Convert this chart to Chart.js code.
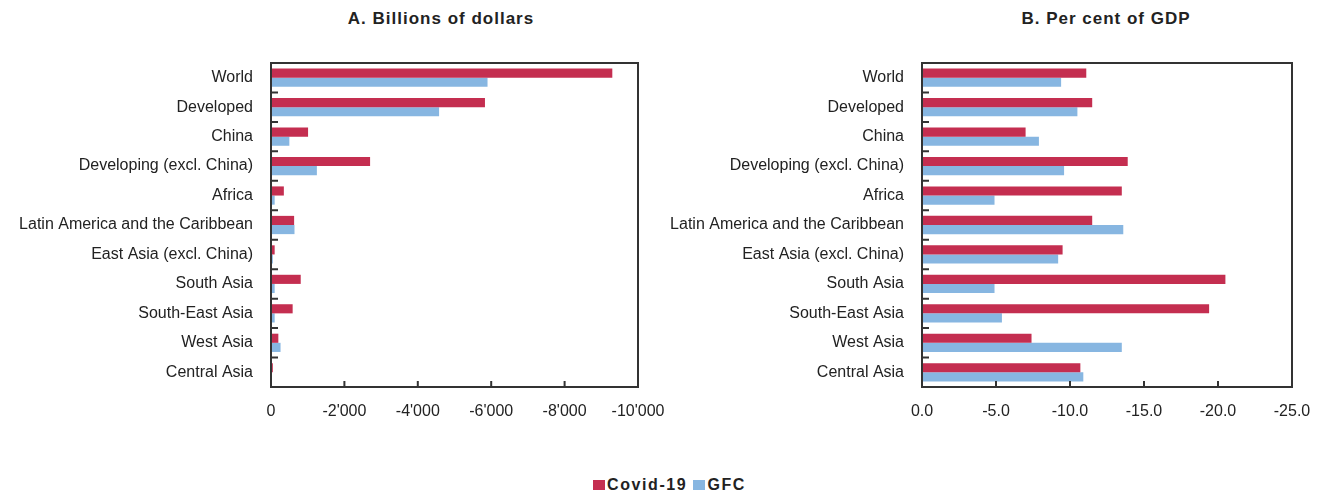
<!DOCTYPE html>
<html>
<head>
<meta charset="utf-8">
<script src="https://cdn.jsdelivr.net/npm/chart.js@4.4.1/dist/chart.umd.min.js"></script>
<style>
  html, body { margin: 0; padding: 0; background: #fff; }
  body { width: 1317px; height: 494px; position: relative; overflow: hidden; font-family: Arial, "Liberation Sans", sans-serif; }
  .wrap { position: absolute; top: 0; }
  .title { position: absolute; top: 9px; font-weight: bold; font-size: 17px; letter-spacing: 1px; color: #222; white-space: nowrap; transform: translateX(-50%); }
  .legend { position: absolute; top: 476px; left: 593px; display: flex; align-items: center; font-size: 16px; font-weight: bold; letter-spacing: 1.6px; color: #222; white-space: nowrap; }
  .sw { display: inline-block; width: 12px; height: 10px; margin-right: 2px; }
</style>
</head>
<body>
<div class="title" style="left:441px">A. Billions of dollars</div>
<div class="title" style="left:1106px">B. Per cent of GDP</div>
<div class="wrap" style="left:0px"><canvas id="cA" width="700" height="440"></canvas></div>
<div class="wrap" style="left:640px"><canvas id="cB" width="677" height="440"></canvas></div>
<div class="legend">
  <span class="sw" style="background:#C42E50"></span><span>Covid-19</span>
  <span class="sw" style="background:#87B6E1;margin-left:6px"></span><span>GFC</span>
</div>
<script>
const categories = ["World", "Developed", "China", "Developing (excl. China)", "Africa",
  "Latin America and the Caribbean", "East Asia (excl. China)", "South Asia",
  "South-East Asia", "West Asia", "Central Asia"];

// Panel A: billions of dollars
const covidUSD = [-9300, -5830, -1010, -2700, -350, -630, -100, -810, -590, -200, -50];
const gfcUSD   = [-5900, -4580, -500, -1250, -100, -640, -50, -100, -100, -260, -20];

// Panel B: per cent of GDP
const covidGDP = [-11.1, -11.5, -7.0, -13.9, -13.5, -11.5, -9.5, -20.5, -19.4, -7.4, -10.7];
const gfcGDP   = [-9.4, -10.5, -7.9, -9.6, -4.9, -13.6, -9.2, -4.9, -5.4, -13.5, -10.9];

const ticksA = [0, -2000, -4000, -6000, -8000, -10000];
const ticksB = [0, -5, -10, -15, -20, -25];

const RED = "#C42E50", BLUE = "#87B6E1";
const FONT = "Arial, 'Liberation Sans', sans-serif";

const frame = {
  id: "frame",
  afterDraw(chart) {
    const ctx = chart.ctx, a = chart.chartArea;
    const x = chart.scales.x, y = chart.scales.y;
    ctx.save();
    ctx.strokeStyle = "#333";
    ctx.lineWidth = 2;
    ctx.strokeRect(a.left, a.top, a.right - a.left, a.bottom - a.top);
    ctx.beginPath();
    x.ticks.forEach((t, i) => {
      const px = x.getPixelForTick(i);
      ctx.moveTo(px, a.bottom);
      ctx.lineTo(px, a.bottom - 6);
    });
    for (let i = 1; i < categories.length; i++) {
      const py = (y.getPixelForValue(i - 1) + y.getPixelForValue(i)) / 2;
      ctx.moveTo(a.left, py);
      ctx.lineTo(a.left + 7, py);
    }
    ctx.stroke();
    ctx.restore();
  }
};

function fmtThousands(v) {
  if (v === 0) return "0";
  const s = Math.abs(v).toString().replace(/\B(?=(\d{3})+(?!\d))/g, "'");
  return (v < 0 ? "-" : "") + s;
}

function makeChart(id, dataRed, dataBlue, tickVals, yWidth, padRight, fmt) {
  return new Chart(document.getElementById(id), {
    type: "bar",
    data: {
      labels: categories,
      datasets: [
        { label: "Covid-19", data: dataRed, backgroundColor: RED, borderWidth: 0 },
        { label: "GFC", data: dataBlue, backgroundColor: BLUE, borderWidth: 0 }
      ]
    },
    options: {
      indexAxis: "y",
      responsive: false,
      animation: false,
      devicePixelRatio: 1,
      layout: { padding: { top: 63, right: padRight, bottom: 0, left: 0 } },
      datasets: { bar: { categoryPercentage: 0.62, barPercentage: 1.0 } },
      plugins: { legend: { display: false }, title: { display: false }, tooltip: { enabled: false } },
      scales: {
        x: {
          type: "linear",
          reverse: true,
          min: tickVals[tickVals.length - 1],
          max: 0,
          afterBuildTicks: s => { s.ticks = tickVals.map(v => ({ value: v })); },
          afterFit: s => { s.height = 53; s.paddingLeft = 0; s.paddingRight = 0; },
          grid: { display: false, drawTicks: false },
          border: { display: false },
          ticks: { color: "#222", font: { family: FONT, size: 16 }, padding: 15, maxRotation: 0, callback: v => fmt(v) }
        },
        y: {
          afterFit: s => { s.width = yWidth; },
          grid: { display: false, drawTicks: false, offset: true },
          border: { display: false },
          ticks: { color: "#222", font: { family: FONT, size: 16 }, padding: 18, autoSkip: false }
        }
      }
    },
    plugins: [frame]
  });
}

makeChart("cA", covidUSD, gfcUSD, ticksA, 271, 62, fmtThousands);
makeChart("cB", covidGDP, gfcGDP, ticksB, 282, 25, v => v.toFixed(1));
</script>
</body>
</html>
